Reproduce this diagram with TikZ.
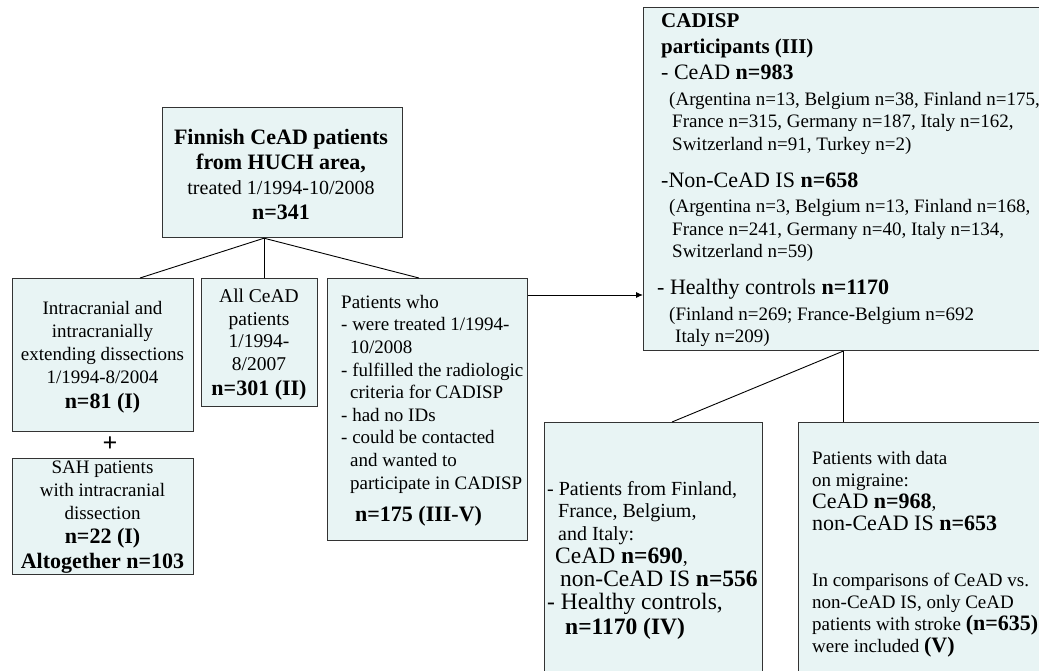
\documentclass[tikz,border=0pt]{standalone}
\usepackage{fontspec}
\setmainfont{Liberation Serif}
\usetikzlibrary{arrows.meta}
\definecolor{boxfill}{HTML}{E8F4F4}
\definecolor{boxline}{HTML}{333333}
\newcommand{\fsz}[2]{\fontsize{#1}{#2}\selectfont}
\tikzset{
  box/.style={draw=boxline, line width=1.2pt, fill=boxfill, inner sep=0pt, anchor=north west},
  conn/.style={draw=black, line width=0.9pt},
  txt/.style={inner sep=0pt, text=black},
}
\begin{document}
\begin{tikzpicture}[x=1pt,y=-1pt]
\useasboundingbox (0,0) rectangle (1039,671);
\clip (0,0) rectangle (1039,671);

% boxes
\node[box, minimum width=240pt, minimum height=130pt] (top) at (162,107) {};
\node[box, minimum width=181pt, minimum height=153pt] (left1) at (12,278) {};
\node[box, minimum width=116pt, minimum height=128pt] (mid) at (201,278) {};
\node[box, minimum width=200pt, minimum height=262pt] (who) at (327,278) {};
\node[box, minimum width=181pt, minimum height=116pt] (sah) at (12,458) {};
\node[box, minimum width=420pt, minimum height=343pt] (cad) at (643,7) {};
\node[box, minimum width=218pt, minimum height=260pt] (bmid) at (544,422) {};
\node[box, minimum width=262pt, minimum height=260pt] (bright) at (798,422) {};

% connectors
\coordinate (b1) at (top.south -| 264,0);
\draw[conn] (b1) -- (left1.north -| 140,0);
\draw[conn] (b1) -- (mid.north -| 264,0);
\draw[conn] (b1) -- (who.north -| 419,0);
\draw[conn,-{Latex[length=7pt,width=6pt]}] (who.north east |- 0,295) -- (cad.north west |- 0,295);
\coordinate (b2) at (cad.south -| 843,0);
\draw[conn] (b2) -- (bmid.north -| 672,0);
\draw[conn] (b2) -- (bright.north -| 843,0);

% texts
\node[txt, align=center, anchor=north, font=\fsz{20}{25}] (toptxt) at (281,129)
  {{\fsz{22}{25}\bfseries Finnish CeAD patients}\\{\fsz{22}{25}\bfseries from HUCH area,}\\treated 1/1994-10/2008\\{\fsz{22}{25}\bfseries n=341}};

\node[txt, align=center, anchor=north, font=\fsz{19}{23}] (l1txt) at (102.5,301)
  {Intracranial and\\intracranially\\extending dissections\\1/1994-8/2004\\[2pt]{\fsz{22}{23}\bfseries n=81 (I)}};

\node[txt, font=\fsz{26}{26}\bfseries] (plus) at (110,444) {+};

\node[txt, align=center, anchor=north, font=\fsz{19}{23}] (sahtxt) at (102.5,461)
  {SAH patients\\with intracranial\\dissection\\[1pt]{\fsz{22}{23}\bfseries n=22 (I)}\\[2pt]{\fsz{22}{23}\bfseries Altogether n=103}};

\node[txt, align=center, anchor=north, font=\fsz{19.5}{22.5}] (midtxt) at (259,289)
  {All CeAD\\patients\\1/1994-\\8/2007\\[2.5pt]{\fsz{22}{22.5}\bfseries n=301 (II)}};

\node[txt, align=left, anchor=north west, font=\fsz{19}{22.6}] (whotxt) at (341,295)
  {Patients who\\- were treated 1/1994-\\\hspace*{9pt}10/2008\\- fulfilled the radiologic\\\hspace*{9pt}criteria for CADISP\\- had no IDs\\- could be contacted\\\hspace*{9pt}and wanted to\\\hspace*{9pt}participate in CADISP\\[9.5pt]\hspace*{14pt}{\fsz{22}{22.6}\bfseries n=175 (III-V)}};

\node[txt, align=left, anchor=north west, font=\fsz{19}{22.5}] (cadtxt) at (661,13)
  {{\fsz{21}{22.5}\bfseries CADISP}\\[3.5pt]
   {\fsz{21}{22.5}\bfseries participants (III)}\\[3.5pt]
   {\fsz{22}{22.5}- CeAD \bfseries n=983}\\[3.5pt]
   \hspace*{8pt}(Argentina n=13, Belgium n=38, Finland n=175,\\
   \hspace*{11pt}France n=315, Germany n=187, Italy n=162,\\
   \hspace*{11pt}Switzerland n=91, Turkey n=2)\\[15pt]
   {\fsz{22}{22.5}-Non-CeAD IS \bfseries n=658}\\[2.5pt]
   \hspace*{8pt}(Argentina n=3, Belgium n=13, Finland n=168,\\
   \hspace*{11pt}France n=241, Germany n=40, Italy n=134,\\
   \hspace*{11pt}Switzerland n=59)\\[14pt]
   \hspace*{-4pt}{\fsz{22}{22.5}- Healthy controls \bfseries n=1170}\\[3.5pt]
   \hspace*{8pt}(Finland n=269; France-Belgium n=692\\
   \hspace*{14pt}Italy n=209)};

\node[txt, align=left, anchor=north west, font=\fsz{20}{22.5}] (bmidtxt) at (547,481)
  {- Patients from Finland,\\
   \hspace*{11pt}France, Belgium,\\
   \hspace*{11pt}and Italy:\\[1pt]
   \hspace*{8pt}{\fsz{23.5}{22.5}CeAD \bfseries n=690},\\
   \hspace*{13pt}{\fsz{23.5}{22.5}non-CeAD IS \bfseries n=556}\\[1pt]
   {\fsz{23.5}{22.5}- Healthy controls,}\\[2pt]
   \hspace*{18pt}{\fsz{23.5}{22.5}\bfseries n=1170 (IV)}};

\node[txt, align=left, anchor=north west, font=\fsz{19}{22}] (brtxt) at (812,451)
  {Patients with data\\
   on migraine:\\
   {\fsz{22}{22}CeAD \bfseries n=968},\\
   {\fsz{22}{22}non-CeAD IS \bfseries n=653}\\[34pt]
   In comparisons of CeAD vs.\\
   non-CeAD IS, only CeAD\\
   patients with stroke {\fsz{22}{22}\bfseries (n=635)}\\
   were included {\fsz{22}{22}\bfseries (V)}};
\end{tikzpicture}
\end{document}
